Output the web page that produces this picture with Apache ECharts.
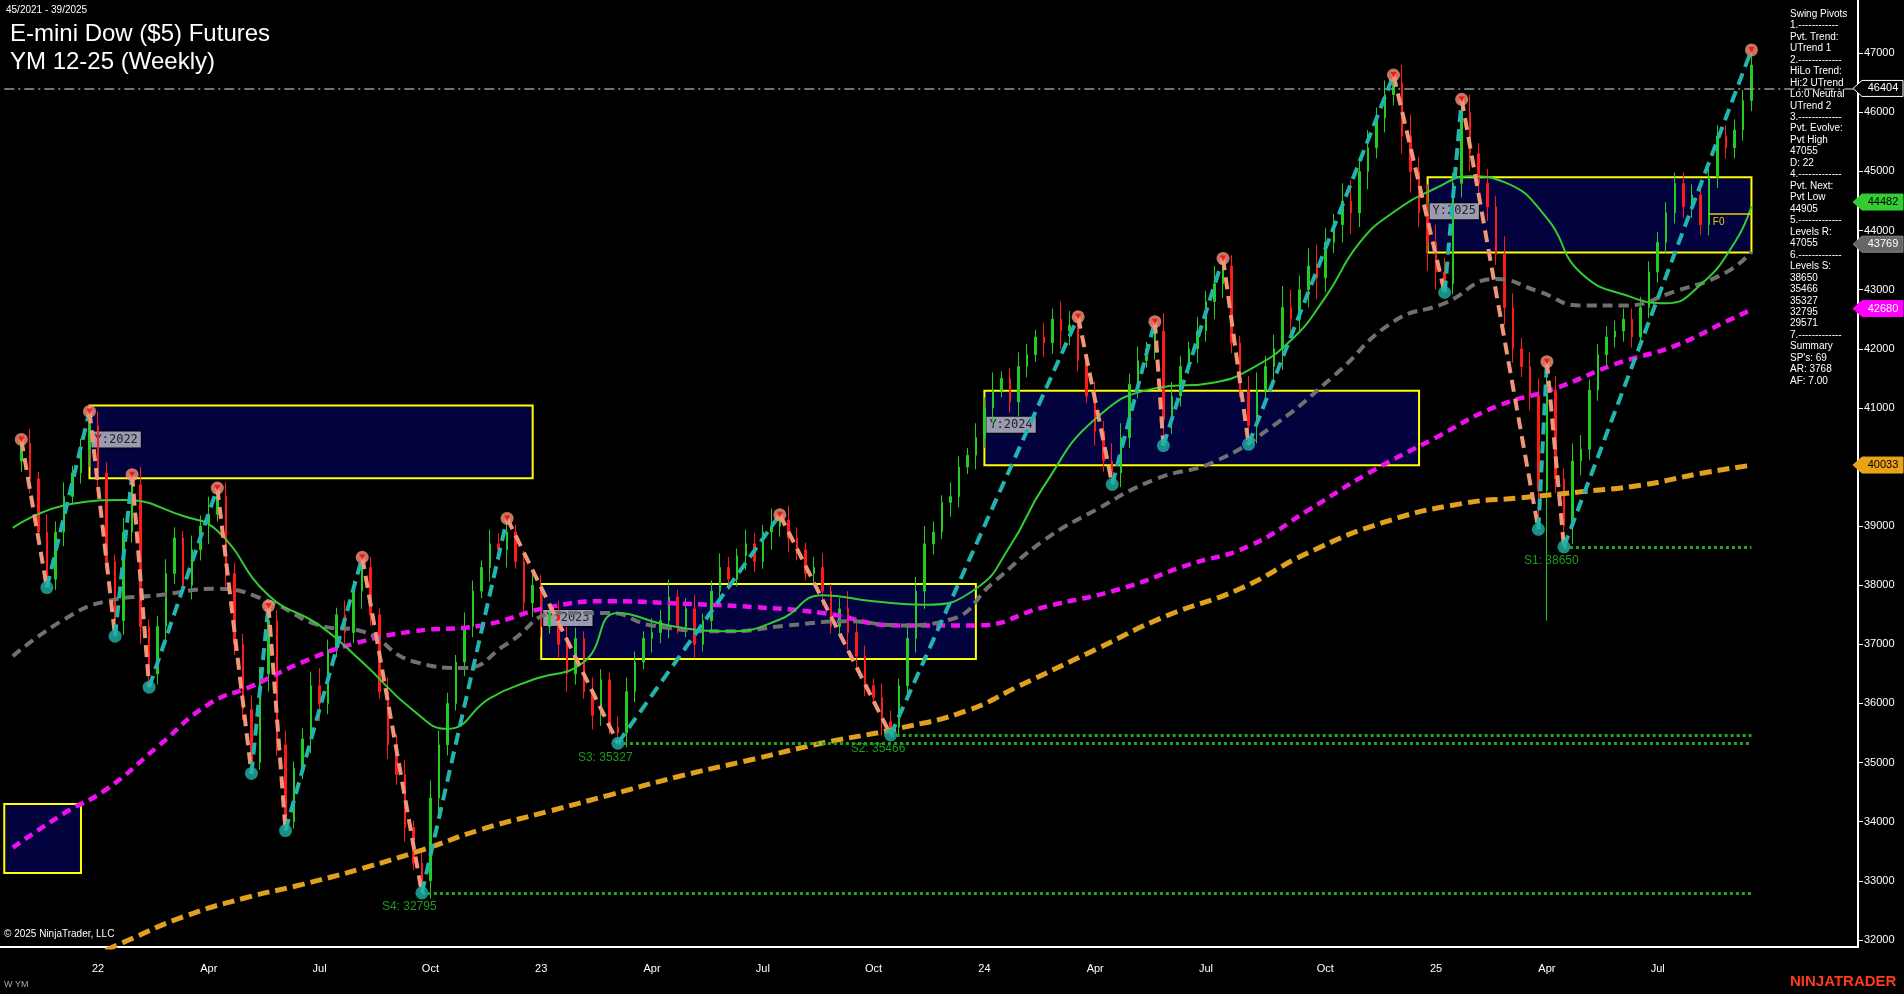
<!DOCTYPE html>
<html>
<head>
<meta charset="utf-8">
<script src="https://cdn.jsdelivr.net/npm/echarts@6/dist/echarts.min.js"></script>
<style>
  html, body { margin: 0; padding: 0; background: #000; }
  #chart { width: 1904px; height: 994px; }
</style>
</head>
<body>
<div id="chart"></div>
<script>
// weekly closes, starting at category index 2 (week 45/2021)
var firstIdx = 2;
var closes = [
  40400, 39800, 38900, 38100, 38900, 39500, 39900, 40300, 40700,
  39900, 38400, 37400, 38900, 39700, 37300, 36500,
  37300, 38200, 38800, 38000, 38600, 39000, 39200, 39500,
  38200, 37000, 35900, 35000, 36500, 37400, 35300, 34000,
  34900, 35400, 36300, 36000, 36900, 37500, 37200, 37900, 38300,
  37500, 36200, 35300, 34800, 33900, 33300, 33000,
  34400, 35300, 36000, 36700, 37300, 37900, 38300, 38700, 38600, 38900,
  38400, 37700, 38000, 37300, 37500, 37000, 36500, 37100, 36200, 35800, 36400, 35600, 35500,
  36200, 36700, 37100, 37200, 37400, 37800, 37300, 37600, 37000, 37400, 37900, 38300, 38100, 38500, 38700, 38400, 38900, 39000, 39100,
  38800, 38600, 38200, 38300, 37900, 37300, 37600, 37200, 36800, 36300, 36100, 35700, 35600,
  36300, 37100, 37900, 38700, 38900, 39400, 39500, 40000, 40200, 40500, 41000, 41300, 41500, 41100, 41700, 41900, 42200, 42100, 42500, 42300, 42400,
  41800, 41200, 40600, 40100, 39900,
  40500, 41400, 41800, 42000, 42300,
  40800,
  41200, 41700, 42000, 42300, 42800, 43100, 43400,
  42100, 41300, 40700,
  41300, 41700, 42000, 42700, 42500, 43000, 43400, 43200, 43800, 44100, 44500, 44300, 45000, 45400, 45900, 46300, 46500,
  45600, 45000, 44300, 43800, 43300, 43100,
  44800, 46000,
  45300, 44800, 44400, 43600, 42700, 42000, 41700, 41200, 39600,
  41300,
  39800, 39000,
  40100, 40300, 41300, 41900, 42200, 42300, 42500, 42200, 42700, 43300, 43800, 44300, 44800, 44400, 44600, 44100, 44900, 45600, 45400, 45700, 46200, 46800
];
// wick size per bar, in units of 60 points
var wick = [
  3,4,2,5,3,4,2,3,5,4, 3,2,4,3,5,2,3,4,3,2, 4,3,5,2,4,3,3,4,2,5, 3,4,2,3,4,5,3,2,4,3,
  5,3,2,4,3,4,2,3,5,4, 3,2,4,3,2,4,3,5,2,3, 4,3,2,4,5,3,2,4,3,2, 3,4,3,2,4,3,5,2,3,4,
  2,3,4,3,2,4,3,2,5,3, 4,3,2,3,4,2,3,5,4,3, 2,4,3,2,3,4,5,3,2,4, 3,2,4,3,5,2,3,4,3,2,
  4,3,5,4,3,2,4,3,5,4, 3,4,2,3,5,4,3,2,4,3, 5,4,3,2,4,5,3,4,6,5, 4,5,6,4,3,5,6,4,5,3,
  4,3,5,6,4,8,5,4,3,4, 5,3,4,3,5,4,3,4,5,3, 4,3,5,4
];
var pivotIdx = [2, 5, 10, 13, 15, 17, 25, 29, 31, 33, 42, 49, 59, 72, 91, 104, 126, 130, 135, 136, 143, 146, 163, 169, 171, 180, 181, 183, 205];
var pivotVal = [40466, 37960, 40940, 37138, 39870, 36275, 39644, 34816, 37650, 33850, 38473, 32795, 39130, 35327, 39192, 35466, 42541, 39706, 42459, 40363, 43528, 40384, 46630, 42952, 46219, 38946, 41781, 38650, 47055];
var extraLow = [[181, 37400]];

var maFast = [[1,38970],[8,39380],[14,39440],[21,39170],[25,38920],[31,37830],[37,37320],[42,36700],[48,35880],[52,35570],[57,36090],[62,36400],[68,36700],[72,37530],[78,37320],[85,37220],[91,37420],[96,37830],[102,37730],[108,37670],[114,37940],[118,38660],[122,39680],[128,40810],[135,41330],[142,41430],[146,41640],[151,42150],[155,42870],[159,43790],[163,44310],[168,44720],[172,44920],[176,44820],[181,44210],[185,43280],[191,42870],[195,42770],[199,43080],[203,43790],[205,44410]];
var maMid = [[1,36800],[7,37420],[12,37730],[18,37830],[25,37940],[31,37730],[37,37320],[42,37220],[48,36710],[54,36600],[59,37010],[65,37530],[71,37530],[76,37320],[85,37220],[92,37320],[99,37390],[105,37320],[111,37420],[116,38040],[122,38760],[128,39270],[135,39790],[142,40090],[149,40710],[156,41540],[163,42460],[169,42770],[175,43180],[180,42970],[185,42730],[190,42730],[196,42970],[202,43290],[205,43640]];
var maSlow = [[1,33560],[7,34140],[12,34550],[18,35270],[24,35990],[29,36290],[35,36700],[41,37010],[48,37220],[56,37320],[64,37630],[71,37730],[79,37690],[88,37630],[96,37530],[105,37320],[114,37320],[122,37630],[131,37940],[139,38350],[146,38660],[153,39270],[160,39890],[168,40500],[175,41020],[182,41330],[189,41740],[196,42050],[202,42460],[205,42660]];
var maLong = [[10,31700],[14,31960],[21,32390],[28,32700],[35,32940],[42,33210],[49,33520],[56,33870],[64,34180],[71,34450],[79,34760],[88,35060],[96,35330],[105,35580],[113,35880],[119,36290],[128,36910],[136,37460],[145,37940],[153,38550],[162,39070],[171,39380],[178,39480],[185,39580],[192,39690],[199,39890],[205,40030]];

var yearBoxes = [
  { name: 'Y:2022', x0: 10, x1: 61.6, hi: 41040, lo: 39810 },
  { name: 'Y:2023', x0: 62.5, x1: 114, hi: 38020, lo: 36750 },
  { name: 'Y:2024', x0: 115, x1: 166.4, hi: 41290, lo: 40030 },
  { name: 'Y:2025', x0: 167.4, x1: 204.7, hi: 44900, lo: 43630 },
  { name: '', x0: 0, x1: 9, hi: 34300, lo: 33130 }
];
var supports = [
  { name: 'S1: 38650', from: 183, value: 38650 },
  { name: 'S2: 35466', from: 104, value: 35466 },
  { name: 'S3: 35327', from: 72, value: 35327 },
  { name: 'S4: 32795', from: 49, value: 32795 }
];
var tags = [
  { value: 46404, bg: '#000000', border: '#ffffff', text: '#ffffff' },
  { value: 44482, bg: '#33cc33', border: '#33cc33', text: '#000000' },
  { value: 43769, bg: '#666666', border: '#888888', text: '#ffffff' },
  { value: 42680, bg: '#ff00ff', border: '#ff00ff', text: '#ffffff' },
  { value: 40033, bg: '#e8a317', border: '#e8a317', text: '#000000' }
];
var panelLines = ['Swing Pivots', '1.------------', 'Pvt. Trend:', 'UTrend 1', '2.-------------', 'HiLo Trend:', 'Hi:2 UTrend', 'Lo:0 Neutral', 'UTrend 2', '3.-------------', 'Pvt. Evolve:', 'Pvt High', '47055', 'D: 22', '4.-------------', 'Pvt. Next:', 'Pvt Low', '44905', '5.-------------', 'Levels R:', '47055', '6.-------------', 'Levels S:', '38650', '35466', '35327', '32795', '29571', '7.-------------', 'Summary', "SP's: 69", 'AR: 3768', 'AF: 7.00'];

// categories: weekly dates
var cats = [];
var start = Date.UTC(2021, 9, 18);
for (var i = 0; i < 218; i++) cats.push(start + i * 7 * 86400000);
var MONTHS = ['Jan','Feb','Mar','Apr','May','Jun','Jul','Aug','Sep','Oct','Nov','Dec'];
function isQuarterStart(idx) {
  if (idx > 205) return false;
  var d = new Date(cats[idx]);
  return d.getUTCDate() <= 7 && d.getUTCMonth() % 3 === 0;
}

// candles
var candles = [];
for (var k = 0; k < firstIdx; k++) candles.push('-');
for (var j = 0; j < closes.length; j++) {
  var c = closes[j];
  var o = j === 0 ? 40100 : closes[j - 1];
  var w = (wick[j] || 3) * 60;
  candles.push([o, c, Math.min(o, c) - w, Math.max(o, c) + w]);
}
pivotIdx.forEach(function (idx, p) {
  var bar = candles[idx];
  if (p % 2 === 0) bar[3] = pivotVal[p]; else bar[2] = pivotVal[p];
});
extraLow.forEach(function (e) { candles[e[0]][2] = e[1]; });

var series = [];
series.push({
  type: 'line', data: [], z: 1, silent: true,
  markArea: {
    silent: true,
    itemStyle: { color: '#02023f', borderColor: '#ffff00', borderWidth: 2 },
    label: {
      position: 'insideTopLeft', offset: [-2, 22], color: '#222', fontFamily: 'DejaVu Sans Mono', fontSize: 12,
      backgroundColor: '#9a9ab0', padding: [2, 3], borderColor: '#000', borderWidth: 1
    },
    data: yearBoxes.map(function (b) {
      return [{ name: b.name, xAxis: b.x0, yAxis: b.hi, label: { show: b.name !== '' } }, { xAxis: b.x1, yAxis: b.lo }];
    })
  },
  markLine: {
    silent: true, symbol: 'none',
    lineStyle: { color: '#1fa81f', type: [3, 3], width: 3 },
    label: { position: 'insideStartBottom', distance: 8, offset: [-48, 0], color: '#1c9a1c', fontSize: 12, formatter: '{b}' },
    data: supports.map(function (s) {
      return [{ name: s.name, xAxis: s.from, yAxis: s.value }, { xAxis: 205, yAxis: s.value }];
    }).concat([
      [{ name: '', xAxis: 0, yAxis: 46404, lineStyle: { color: '#999', type: [10, 4, 2, 4], width: 1.5 } }, { xAxis: 217, yAxis: 46404 }],
      [{ name: 'F0', xAxis: 200, yAxis: 44290, lineStyle: { color: '#e6d000', type: 'solid', width: 1.5 },
         label: { position: 'insideStartBottom', distance: 4, offset: [0, 0], color: '#e6d000', fontSize: 10 } }, { xAxis: 205, yAxis: 44290 }]
    ])
  }
});
series.push({
  type: 'candlestick', data: candles, barWidth: 2, z: 3,
  itemStyle: { color: '#22cc22', color0: '#ff1a1a', borderColor: '#22cc22', borderColor0: '#ff1a1a', borderWidth: 1 }
});
function maSeries(data, color, width, dash) {
  return {
    type: 'line', data: data, smooth: 0.5, symbol: 'none', z: 4, silent: true,
    lineStyle: { color: color, width: width, type: dash }
  };
}
series.push(maSeries(maLong, '#e0a020', 5, [12, 6]));
series.push(maSeries(maSlow, '#ee11ee', 4.5, [9, 6]));
series.push(maSeries(maMid, '#707070', 4, [10, 6]));
series.push(maSeries(maFast, '#33cc33', 2, 'solid'));

// zigzag legs
for (var p = 0; p < pivotIdx.length - 1; p++) {
  var up = pivotVal[p + 1] > pivotVal[p];
  series.push({
    type: 'line', symbol: 'none', z: 6, silent: true,
    data: [[pivotIdx[p], pivotVal[p]], [pivotIdx[p + 1], pivotVal[p + 1]]],
    lineStyle: { color: up ? '#22b5ad' : '#f0977a', width: 4, type: [12, 7] }
  });
}
series.push({
  type: 'scatter', z: 7, symbolSize: 13, silent: true,
  data: pivotIdx.map(function (idx, p) {
    return {
      value: [idx, pivotVal[p]],
      itemStyle: { color: p % 2 === 0 ? '#f4937a' : '#1fb3a8' }
    };
  })
});
series.push({
  type: 'scatter', z: 8, symbol: 'triangle', symbolRotate: 180, symbolSize: 6, silent: true,
  itemStyle: { color: '#ff0000' },
  data: pivotIdx.filter(function (v, p) { return p % 2 === 0; }).map(function (idx) {
    return [idx, pivotVal[pivotIdx.indexOf(idx)]];
  })
});

var chart = echarts.init(document.getElementById('chart'));
chart.setOption({
  backgroundColor: '#000',
  animation: false,
  grid: { left: 0, right: 46, top: 0, bottom: 47 },
  xAxis: {
    type: 'category', data: cats, boundaryGap: true,
    axisLine: { lineStyle: { color: '#fff', width: 2 } },
    axisTick: { interval: function (i) { return isQuarterStart(i); }, lineStyle: { color: '#fff' }, length: 6 },
    axisLabel: {
      interval: function (i) { return isQuarterStart(i); },
      color: '#fff', fontSize: 11, margin: 16, fontFamily: 'Arial',
      formatter: function (v) {
        var d = new Date(Number(v));
        return d.getUTCMonth() === 0 ? String(d.getUTCFullYear()).slice(2) : MONTHS[d.getUTCMonth()];
      }
    },
    splitLine: { show: false }
  },
  yAxis: {
    type: 'value', position: 'right', min: 31880, max: 47900, splitNumber: 16, scale: true,
    axisLine: { show: true, lineStyle: { color: '#fff', width: 2 } },
    axisTick: { show: true, lineStyle: { color: '#fff' }, length: 5 },
    axisLabel: { color: '#fff', fontSize: 11, fontFamily: 'Arial', margin: 6, showMinLabel: false, showMaxLabel: false,
      formatter: function (v) { return String(v); } },
    splitLine: { show: false }
  },
  series: series
});

var graphics = [
  { type: 'text', left: 6, top: 5, style: { text: '45/2021 - 39/2025', fill: '#fff', font: '10px Arial' } },
  { type: 'text', left: 10, top: 22, style: { text: 'E-mini Dow ($5) Futures', fill: '#fff', font: '24px Arial' } },
  { type: 'text', left: 10, top: 50, style: { text: 'YM 12-25 (Weekly)', fill: '#fff', font: '24px Arial' } },
  { type: 'text', left: 4, top: 929, style: { text: '\u00a9 2025 NinjaTrader, LLC', fill: '#fff', font: '10px Arial' } },
  { type: 'text', left: 4, top: 980, style: { text: 'W YM', fill: '#aaa', font: '9px Arial' } },
  { type: 'text', left: 1790, top: 974, style: { text: 'NINJATRADER', fill: '#ff3a1a', font: 'bold 15px Arial' } }
];
panelLines.forEach(function (t, n) {
  graphics.push({ type: 'text', left: 1790, top: 9 + n * 11.47, style: { text: t, fill: '#fff', font: '10px Arial' } });
});
tags.forEach(function (t) {
  var y = chart.convertToPixel({ yAxisIndex: 0 }, t.value);
  graphics.push({ type: 'polygon', z: 100, shape: { points: [[1853, y], [1862, y - 8], [1903, y - 8], [1903, y + 8], [1862, y + 8]] },
    style: { fill: t.bg, stroke: t.border, lineWidth: 1 } });
  graphics.push({ type: 'text', x: 1883, y: y, z: 101,
    style: { text: String(t.value), fill: t.text, font: '11px Arial', align: 'center', verticalAlign: 'middle' } });
});
chart.setOption({ graphic: graphics });
</script>
</body>
</html>
